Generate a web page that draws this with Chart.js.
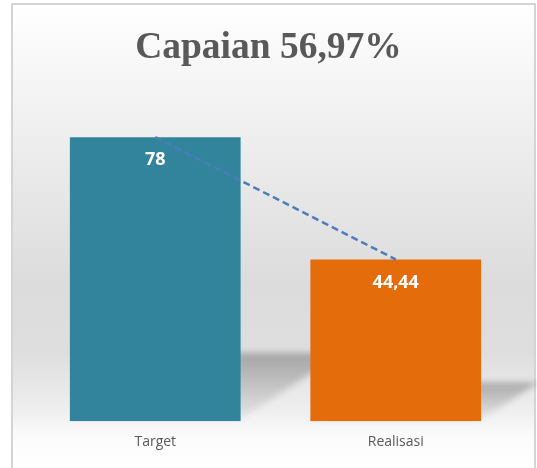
<!DOCTYPE html>
<html>
<head>
<meta charset="utf-8">
<script src="https://cdn.jsdelivr.net/npm/chart.js@4.4.0/dist/chart.umd.min.js"></script>
<style>
  html, body { margin: 0; padding: 0; background: #fff; }
  #wrap { width: 537px; height: 468px; }
</style>
</head>
<body>
<div id="wrap"><canvas id="myChart"></canvas></div>
<script>
const categories = ['Target', 'Realisasi'];
const values = [78, 44.44];
const barColors = ['#31849B', '#E46C0A'];
const titleText = 'Capaian 56,97%';

function fmt(v) {
  return String(v).replace('.', ',');
}

// background + frame like the spreadsheet chart box
const bgPlugin = {
  id: 'bg',
  beforeDraw(chart) {
    const c = chart.ctx;
    const w = chart.width, h = chart.height;
    c.save();
    c.fillStyle = '#fff';
    c.fillRect(0, 0, w, h);
    const g = c.createLinearGradient(0, 4, 0, h);
    g.addColorStop(0, '#ffffff');
    g.addColorStop(0.15, '#f6f6f6');
    g.addColorStop(0.6, '#dcdcdc');
    g.addColorStop(0.75, '#dedede');
    g.addColorStop(0.88, '#efefef');
    g.addColorStop(0.93, '#fbfbfb');
    g.addColorStop(1, '#ffffff');
    c.fillStyle = g;
    c.fillRect(13, 5, w - 15, h - 5);
    c.strokeStyle = '#d4d4d4';
    c.lineWidth = 2;
    c.strokeRect(12, 4, w - 14, h + 4);

    // title, centred on the whole box
    c.fillStyle = '#595959';
    c.font = 'bold 37.5px "Liberation Serif"';
    c.textAlign = 'center';
    c.textBaseline = 'alphabetic';
    c.fillText(titleText, 268.5, 58);
    c.restore();
  }
};

// bar dataset is the second one (index 1)
function barMeta(chart) {
  return chart.getDatasetMeta(1);
}

// slanted soft shadow behind each bar
const shadowPlugin = {
  id: 'barShadow',
  beforeDatasetsDraw(chart) {
    const meta = barMeta(chart);
    const c = chart.ctx;
    c.save();
    c.filter = 'blur(3px)';
    meta.data.forEach(bar => {
      const half = bar.width / 2;
      const l = bar.x - half, r = bar.x + half, b = bar.base;
      const sh = (b - bar.y) * 0.24;
      const d = sh * 1.5;
      const g = c.createLinearGradient(0, b - sh, 0, b);
      g.addColorStop(0, 'rgba(0,0,0,0.26)');
      g.addColorStop(0.45, 'rgba(0,0,0,0.16)');
      g.addColorStop(1, 'rgba(0,0,0,0.03)');
      c.fillStyle = g;
      c.beginPath();
      c.moveTo(l, b);
      c.lineTo(r - 4, b);
      c.lineTo(r + d, b - sh);
      c.lineTo(l + d, b - sh);
      c.closePath();
      c.fill();
    });
    c.restore();
  }
};

const labelPlugin = {
  id: 'valueLabels',
  afterDatasetsDraw(chart) {
    const meta = barMeta(chart);
    const c = chart.ctx;
    c.save();
    c.fillStyle = '#ffffff';
    c.font = 'bold 18px "Open Sans"';
    c.textAlign = 'center';
    c.textBaseline = 'middle';
    meta.data.forEach((bar, i) => {
      c.fillText(fmt(values[i]), bar.x, bar.y + 23);
    });
    c.restore();
  }
};

const ctx = document.getElementById('myChart').getContext('2d');

const myChart = new Chart(ctx, {
  type: 'bar',
  data: {
    labels: categories,
    datasets: [
      {
        type: 'line',
        data: values,
        borderColor: '#4A7EBB',
        borderWidth: 2.5,
        borderDash: [7, 4],
        pointRadius: 0,
        fill: false,
        order: 0,
      },
      {
        type: 'bar',
        data: values,
        backgroundColor: barColors,
        barPercentage: 0.71,
        categoryPercentage: 1,
        order: 1,
      },
    ],
  },
  options: {
    responsive: true,
    maintainAspectRatio: false,
    animation: false,
    layout: { padding: { top: 93.5, left: 35, right: 21, bottom: 14 } },
    plugins: {
      legend: { display: false },
      tooltip: { enabled: false },
      title: { display: false },
    },
    scales: {
      x: {
        grid: { display: false },
        border: { display: false },
        ticks: {
          color: '#595959',
          padding: 4,
          font: { family: '"Open Sans"', size: 14 },
        },
      },
      y: {
        display: false,
        min: 0,
        max: 90,
      },
    },
  },
  plugins: [bgPlugin, shadowPlugin, labelPlugin],
});
</script>
</body>
</html>
